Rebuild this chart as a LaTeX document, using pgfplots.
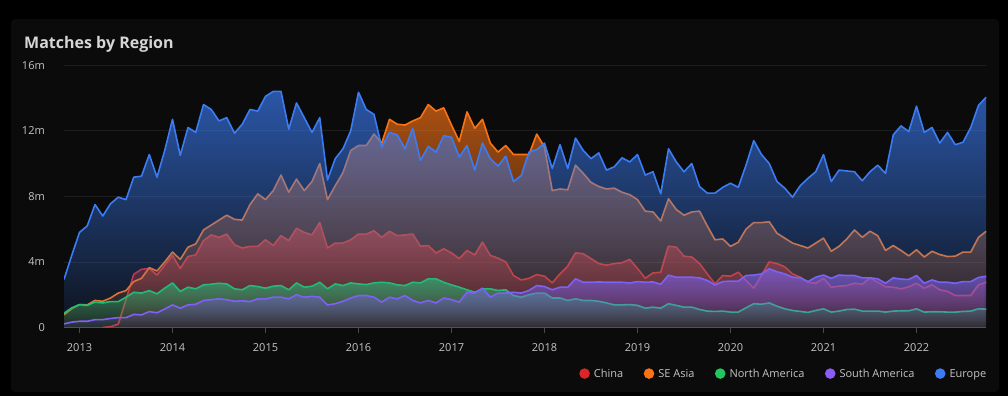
\documentclass[border=0pt]{standalone}
\usepackage{fontspec}
\setmainfont{Open Sans}
\usepackage{pgfplots}
\usepackage{pgfplotstable}
\pgfplotsset{compat=1.18}
\usetikzlibrary{fadings}
\definecolor{cCN}{HTML}{DC2626}
\definecolor{cSEA}{HTML}{F97316}
\definecolor{cNA}{HTML}{22C55E}
\definecolor{cSA}{HTML}{8B5CF6}
\definecolor{cEU}{HTML}{3B7CF4}
\definecolor{panelc}{HTML}{0B0B0B}
\definecolor{gridc}{HTML}{1E1E1E}
\definecolor{axisc}{HTML}{4A4A4A}
\definecolor{labelc}{HTML}{C4C4C4}
\definecolor{titlec}{HTML}{D6D6D6}
\tikzfading[name=areafade, top color=transparent!33, bottom color=transparent!93]
\pgfplotstableread{
i cn sea na sa eu
0 nan 0.78 0.87 0.22 2.93
1 nan 1.15 1.2 0.33 4.4
2 nan 1.4 1.4 0.38 5.8
3 nan 1.38 1.35 0.38 6.2
4 nan 1.65 1.55 0.48 7.5
5 0 1.6 1.5 0.48 6.8
6 0.05 1.8 1.58 0.55 7.55
7 0.2 2.1 1.58 0.6 7.95
8 1.7 2.25 1.85 0.6 7.8
9 3.25 2.8 2.15 0.8 9.17
10 3.55 3.0 2.1 0.77 9.23
11 3.6 3.65 2.25 0.97 10.55
12 3.2 3.45 2.05 0.9 9.17
13 3.8 4.0 2.4 1.13 10.8
14 4.4 4.6 2.72 1.38 12.7
15 3.6 4.15 2.2 1.18 10.5
16 4.33 4.9 2.46 1.38 12.2
17 4.43 5.1 2.36 1.42 11.9
18 5.3 5.95 2.6 1.65 13.6
19 5.65 6.25 2.64 1.7 13.3
20 5.5 6.55 2.7 1.75 12.6
21 5.7 6.85 2.66 1.7 12.8
22 5.05 6.6 2.36 1.6 11.85
23 4.85 6.55 2.3 1.63 12.4
24 4.95 7.5 2.56 1.58 13.3
25 4.95 8.15 2.5 1.75 13.2
26 5.35 7.8 2.4 1.75 14.1
27 5.0 8.35 2.52 1.85 14.4
28 5.6 9.3 2.56 1.85 14.4
29 5.3 8.25 2.3 1.75 12.1
30 6.05 9.05 2.72 2.0 13.7
31 5.8 8.35 2.46 1.85 12.8
32 5.65 8.9 2.52 1.9 11.9
33 6.4 10.0 2.76 1.85 12.8
34 4.85 7.8 2.36 1.38 9.0
35 5.15 8.65 2.66 1.45 10.3
36 5.15 9.45 2.56 1.6 10.9
37 5.35 10.8 2.72 1.8 12.0
38 5.7 11.1 2.66 1.95 14.35
39 5.7 11.1 2.62 1.95 13.3
40 5.9 11.8 2.72 1.85 13.0
41 5.5 11.25 2.76 1.55 11.0
42 5.87 12.7 2.72 1.85 11.9
43 5.6 12.4 2.6 1.75 11.75
44 5.65 12.35 2.56 1.95 10.9
45 5.7 12.6 2.76 1.65 12.15
46 4.96 12.8 2.72 1.5 10.2
47 5.0 13.6 2.97 1.65 11.05
48 4.55 13.2 2.97 1.5 10.7
49 4.8 13.4 2.76 1.8 11.7
50 4.55 12.35 2.6 1.7 11.6
51 4.2 11.35 2.46 1.55 10.4
52 4.7 13.15 2.3 2.15 11.1
53 4.43 12.15 2.15 2.1 9.6
54 5.2 12.7 2.36 2.4 11.25
55 4.4 11.25 2.36 1.85 10.3
56 4.23 10.7 2.26 2.1 9.85
57 4.0 11.1 2.3 2.1 10.45
58 3.17 10.55 1.95 2.15 8.9
59 2.9 10.55 1.85 2.1 9.27
60 3.0 10.55 2.0 2.26 10.7
61 3.23 11.8 2.1 2.56 10.85
62 3.13 11.0 2.1 2.5 11.25
63 2.72 8.35 1.8 2.3 9.7
64 3.27 8.45 1.8 2.46 11.15
65 3.74 8.4 1.65 2.46 9.7
66 4.55 9.9 1.75 2.97 11.55
67 4.5 9.4 1.65 2.76 10.8
68 4.2 8.85 1.65 2.76 10.3
69 3.9 8.6 1.6 2.78 10.65
70 3.8 8.45 1.5 2.76 9.6
71 3.9 8.5 1.38 2.76 9.8
72 3.95 8.25 1.38 2.76 10.35
73 4.15 8.1 1.4 2.72 10.1
74 3.6 7.8 1.35 2.8 10.55
75 3.0 7.1 1.18 2.76 9.3
76 3.33 7.05 1.24 2.78 9.5
77 3.37 6.5 1.18 2.64 8.15
78 4.96 7.85 1.45 3.19 10.9
79 4.9 7.2 1.35 3.07 10.1
80 4.35 6.85 1.24 3.07 9.5
81 4.3 7.05 1.24 3.07 10.0
82 3.9 7.1 1.1 3.03 8.6
83 3.27 6.2 1.0 2.87 8.2
84 2.66 5.35 0.98 2.6 8.2
85 3.17 5.4 1.0 2.8 8.55
86 3.13 4.95 0.94 2.83 8.8
87 3.37 5.2 0.94 2.83 8.55
88 2.87 6.0 1.2 3.17 9.9
89 2.4 6.4 1.45 3.2 11.4
90 3.17 6.4 1.42 3.27 10.55
91 4.0 6.45 1.5 3.58 10.0
92 3.9 5.75 1.3 3.4 8.9
93 3.7 5.45 1.14 3.27 8.5
94 3.27 5.15 1.04 3.07 7.95
95 3.07 5.0 0.98 3.03 8.65
96 2.76 4.85 0.92 2.8 9.1
97 2.7 5.15 1.04 3.07 9.5
98 3.0 5.45 1.14 3.2 10.55
99 2.46 4.65 0.94 3.0 8.9
100 2.52 4.95 1.0 3.2 9.6
101 2.56 5.4 1.1 3.17 9.55
102 2.7 5.95 1.12 3.17 9.5
103 2.64 5.5 1.0 3.03 8.95
104 3.03 5.87 1.0 3.03 9.5
105 2.76 5.6 1.0 2.97 9.9
106 2.48 4.7 0.94 2.7 9.4
107 2.46 5.0 1.0 3.03 11.75
108 2.36 4.7 1.02 2.95 12.3
109 2.48 4.37 1.02 2.93 11.95
110 2.7 4.74 1.14 3.17 13.5
111 2.4 4.3 0.94 2.7 11.9
112 2.6 4.65 0.96 2.9 12.2
113 2.3 4.45 0.96 2.76 11.25
114 2.2 4.33 0.94 2.76 11.9
115 1.95 4.35 0.94 2.7 11.15
116 1.95 4.6 0.98 2.8 11.3
117 1.95 4.6 1.0 2.8 12.2
118 2.6 5.5 1.14 3.05 13.55
119 2.76 5.87 1.12 3.13 14.05
}\regiondata
\begin{document}
\begin{tikzpicture}
\useasboundingbox (0,0) rectangle (1008bp,-396bp);
\fill[black] (0,0) rectangle (1008bp,-396bp);
\fill[panelc, rounded corners=4bp] (11bp,-19bp) rectangle (999bp,-392bp);
\node[anchor=base west, inner sep=0pt, text=titlec, font=\bfseries\fontsize{16bp}{19bp}\selectfont] at (24bp,-48.3bp) {Matches by Region};
\begin{axis}[
  at={(64bp,-327.5bp)}, anchor=south west,
  scale only axis, width=922.25bp, height=262.3bp,
  xmin=0, xmax=119, ymin=0, ymax=16,
  axis x line*=bottom, axis y line*=left,
  y axis line style={draw=none},
  x axis line style={draw=axisc, line width=0.8bp},
  ytick={0,4,8,12,16}, yticklabels={0,4m,8m,12m,16m},
  xtick={2,14,26,38,50,62,74,86,98,110},
  xticklabels={2013,2014,2015,2016,2017,2018,2019,2020,2021,2022},
  ymajorgrids, grid style={draw=gridc, line width=0.8bp},
  tick align=outside,
  x tick style={draw=axisc, line width=0.8bp},
  major tick length=5bp,
  y tick style={draw=none},
  tick label style={font=\fontsize{11bp}{13bp}\selectfont, text=labelc, inner sep=0pt},
  yticklabel style={anchor=east, xshift=-14bp},
  xticklabel style={anchor=base, yshift=-18.5bp},
  legend style={at={(1,-0.1756)}, anchor=east, draw=none, fill=none, text=labelc,
    font=\fontsize{11bp}{13bp}\selectfont, inner sep=0pt, outer sep=0pt,
    nodes={inner sep=0pt, anchor=base west},
    /tikz/every odd column/.append style={column sep=4bp},
    /tikz/every even column/.append style={column sep=20.5bp}},
  legend columns=-1,
  legend image code/.code={\path[#1] (5.3bp,0.35em) circle (5.3bp);},
  clip=true,
]
\addlegendimage{fill=cCN, draw=none}
\addlegendentry{China}
\addlegendimage{fill=cSEA, draw=none}
\addlegendentry{SE Asia}
\addlegendimage{fill=cNA, draw=none}
\addlegendentry{North America}
\addlegendimage{fill=cSA, draw=none}
\addlegendentry{South America}
\addlegendimage{fill=cEU, draw=none}
\addlegendentry{Europe}

\addplot[draw=none, fill=cCN, path fading=areafade, forget plot] table[x=i, y=cn] {\regiondata} \closedcycle;
\addplot[cCN, line width=1.6bp, line join=round, forget plot] table[x=i, y=cn] {\regiondata};
\addplot[draw=none, fill=cSEA, path fading=areafade, forget plot] table[x=i, y=sea] {\regiondata} \closedcycle;
\addplot[cSEA, line width=1.6bp, line join=round, forget plot] table[x=i, y=sea] {\regiondata};
\addplot[draw=none, fill=cNA, path fading=areafade, forget plot] table[x=i, y=na] {\regiondata} \closedcycle;
\addplot[cNA, line width=1.6bp, line join=round, forget plot] table[x=i, y=na] {\regiondata};
\addplot[draw=none, fill=cSA, path fading=areafade, forget plot] table[x=i, y=sa] {\regiondata} \closedcycle;
\addplot[cSA, line width=1.6bp, line join=round, forget plot] table[x=i, y=sa] {\regiondata};
\addplot[draw=none, fill=cEU, path fading=areafade, forget plot] table[x=i, y=eu] {\regiondata} \closedcycle;
\addplot[cEU, line width=1.6bp, line join=round, forget plot] table[x=i, y=eu] {\regiondata};
\end{axis}
\end{tikzpicture}
\end{document}
